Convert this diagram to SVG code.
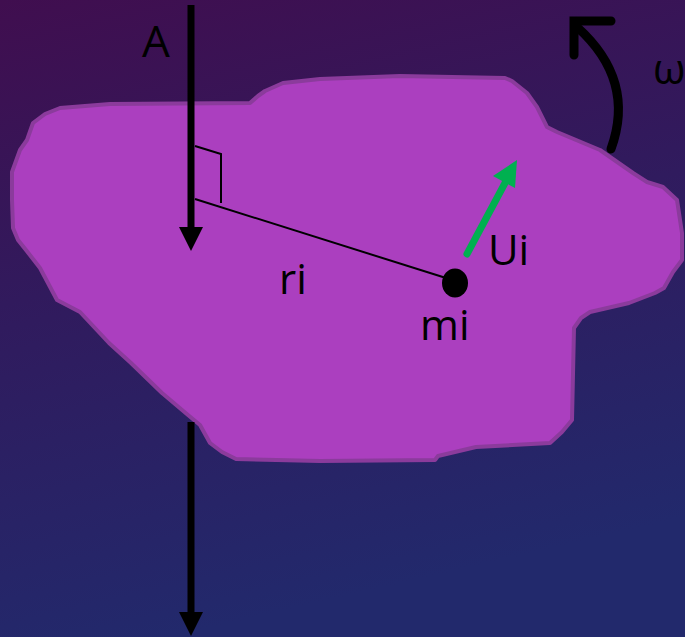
<svg xmlns="http://www.w3.org/2000/svg" width="685" height="637" viewBox="0 0 685 637">
<defs>
<linearGradient id="bg" x1="0" y1="0" x2="0.25" y2="1">
<stop offset="0" stop-color="#400e4f"/>
<stop offset="0.45" stop-color="#311a5d"/>
<stop offset="1" stop-color="#22296c"/>
</linearGradient>
</defs>
<style>
.lbl{font-family:"Open Sans","Liberation Sans",sans-serif;fill:#000;}
.shaft{stroke:#000;stroke-width:7;fill:none;}
.head{fill:#000;}
</style>
<rect width="685" height="637" fill="url(#bg)"/>
<g id="body">
<path d="M12,172 L20,150 L27,140 L33,123 L45,114 L60,108 L110,104 L250,103 L258,96 L265,91 L283,83 L320,79 L400,76 L505,78 L512,81 L527,93 L537,107 L547,127 L557,132 L600,150 L633,173 L647,182 L663,187 L677,200 L682,233 L682,260 L673,272 L664,288 L655,293 L629,303 L590,312 L581,318 L574,328 L572,420 L562,432 L550,443 L476,447 L438,456 L435,460 L320,461 L236,459 L222,452 L210,443 L200,425 L188,415 L162,393 L131,363 L109,343 L80,312 L57,300 L40,268 L26,250 L18,240 L13,228 L12,200 Z" fill="#ab3fbf" stroke="#8b3b9c" stroke-width="4" stroke-linejoin="round"/>
</g>
<g id="axis-A">
<line class="shaft" x1="191" y1="5" x2="191" y2="232"/>
<polygon class="head" points="179,227 203,227 191,251"/>
<line class="shaft" x1="191" y1="422" x2="191" y2="616"/>
<polygon class="head" points="179,612 203,612 191,636"/>
<text class="lbl" x="142" y="57" font-size="44">A</text>
</g>
<g id="radius">
<polyline points="195,146 221,154 221,203" fill="none" stroke="#000" stroke-width="2"/>
<line x1="195" y1="199" x2="446" y2="278" stroke="#000" stroke-width="2"/>
<text class="lbl" x="279" y="294" font-size="42">ri</text>
</g>
<g id="mass">
<ellipse cx="455" cy="283" rx="13" ry="14.5" fill="#000"/>
<text class="lbl" x="420" y="340" font-size="42">mi</text>
</g>
<g id="velocity">
<line x1="467" y1="254" x2="505" y2="183" stroke="#00b050" stroke-width="7" stroke-linecap="round"/>
<polygon points="517,160 515,188 493,176" fill="#00b050"/>
<text class="lbl" x="488" y="265" font-size="42">Ui</text>
</g>
<g id="omega">
<path d="M611,149 Q636,80 577,27" fill="none" stroke="#000" stroke-width="9" stroke-linecap="round"/>
<polyline points="574,55 574,21 611,21" fill="none" stroke="#000" stroke-width="9" stroke-linecap="round" stroke-linejoin="miter"/>
<text class="lbl" x="653" y="84" font-size="42">ω</text>
</g>
</svg>
